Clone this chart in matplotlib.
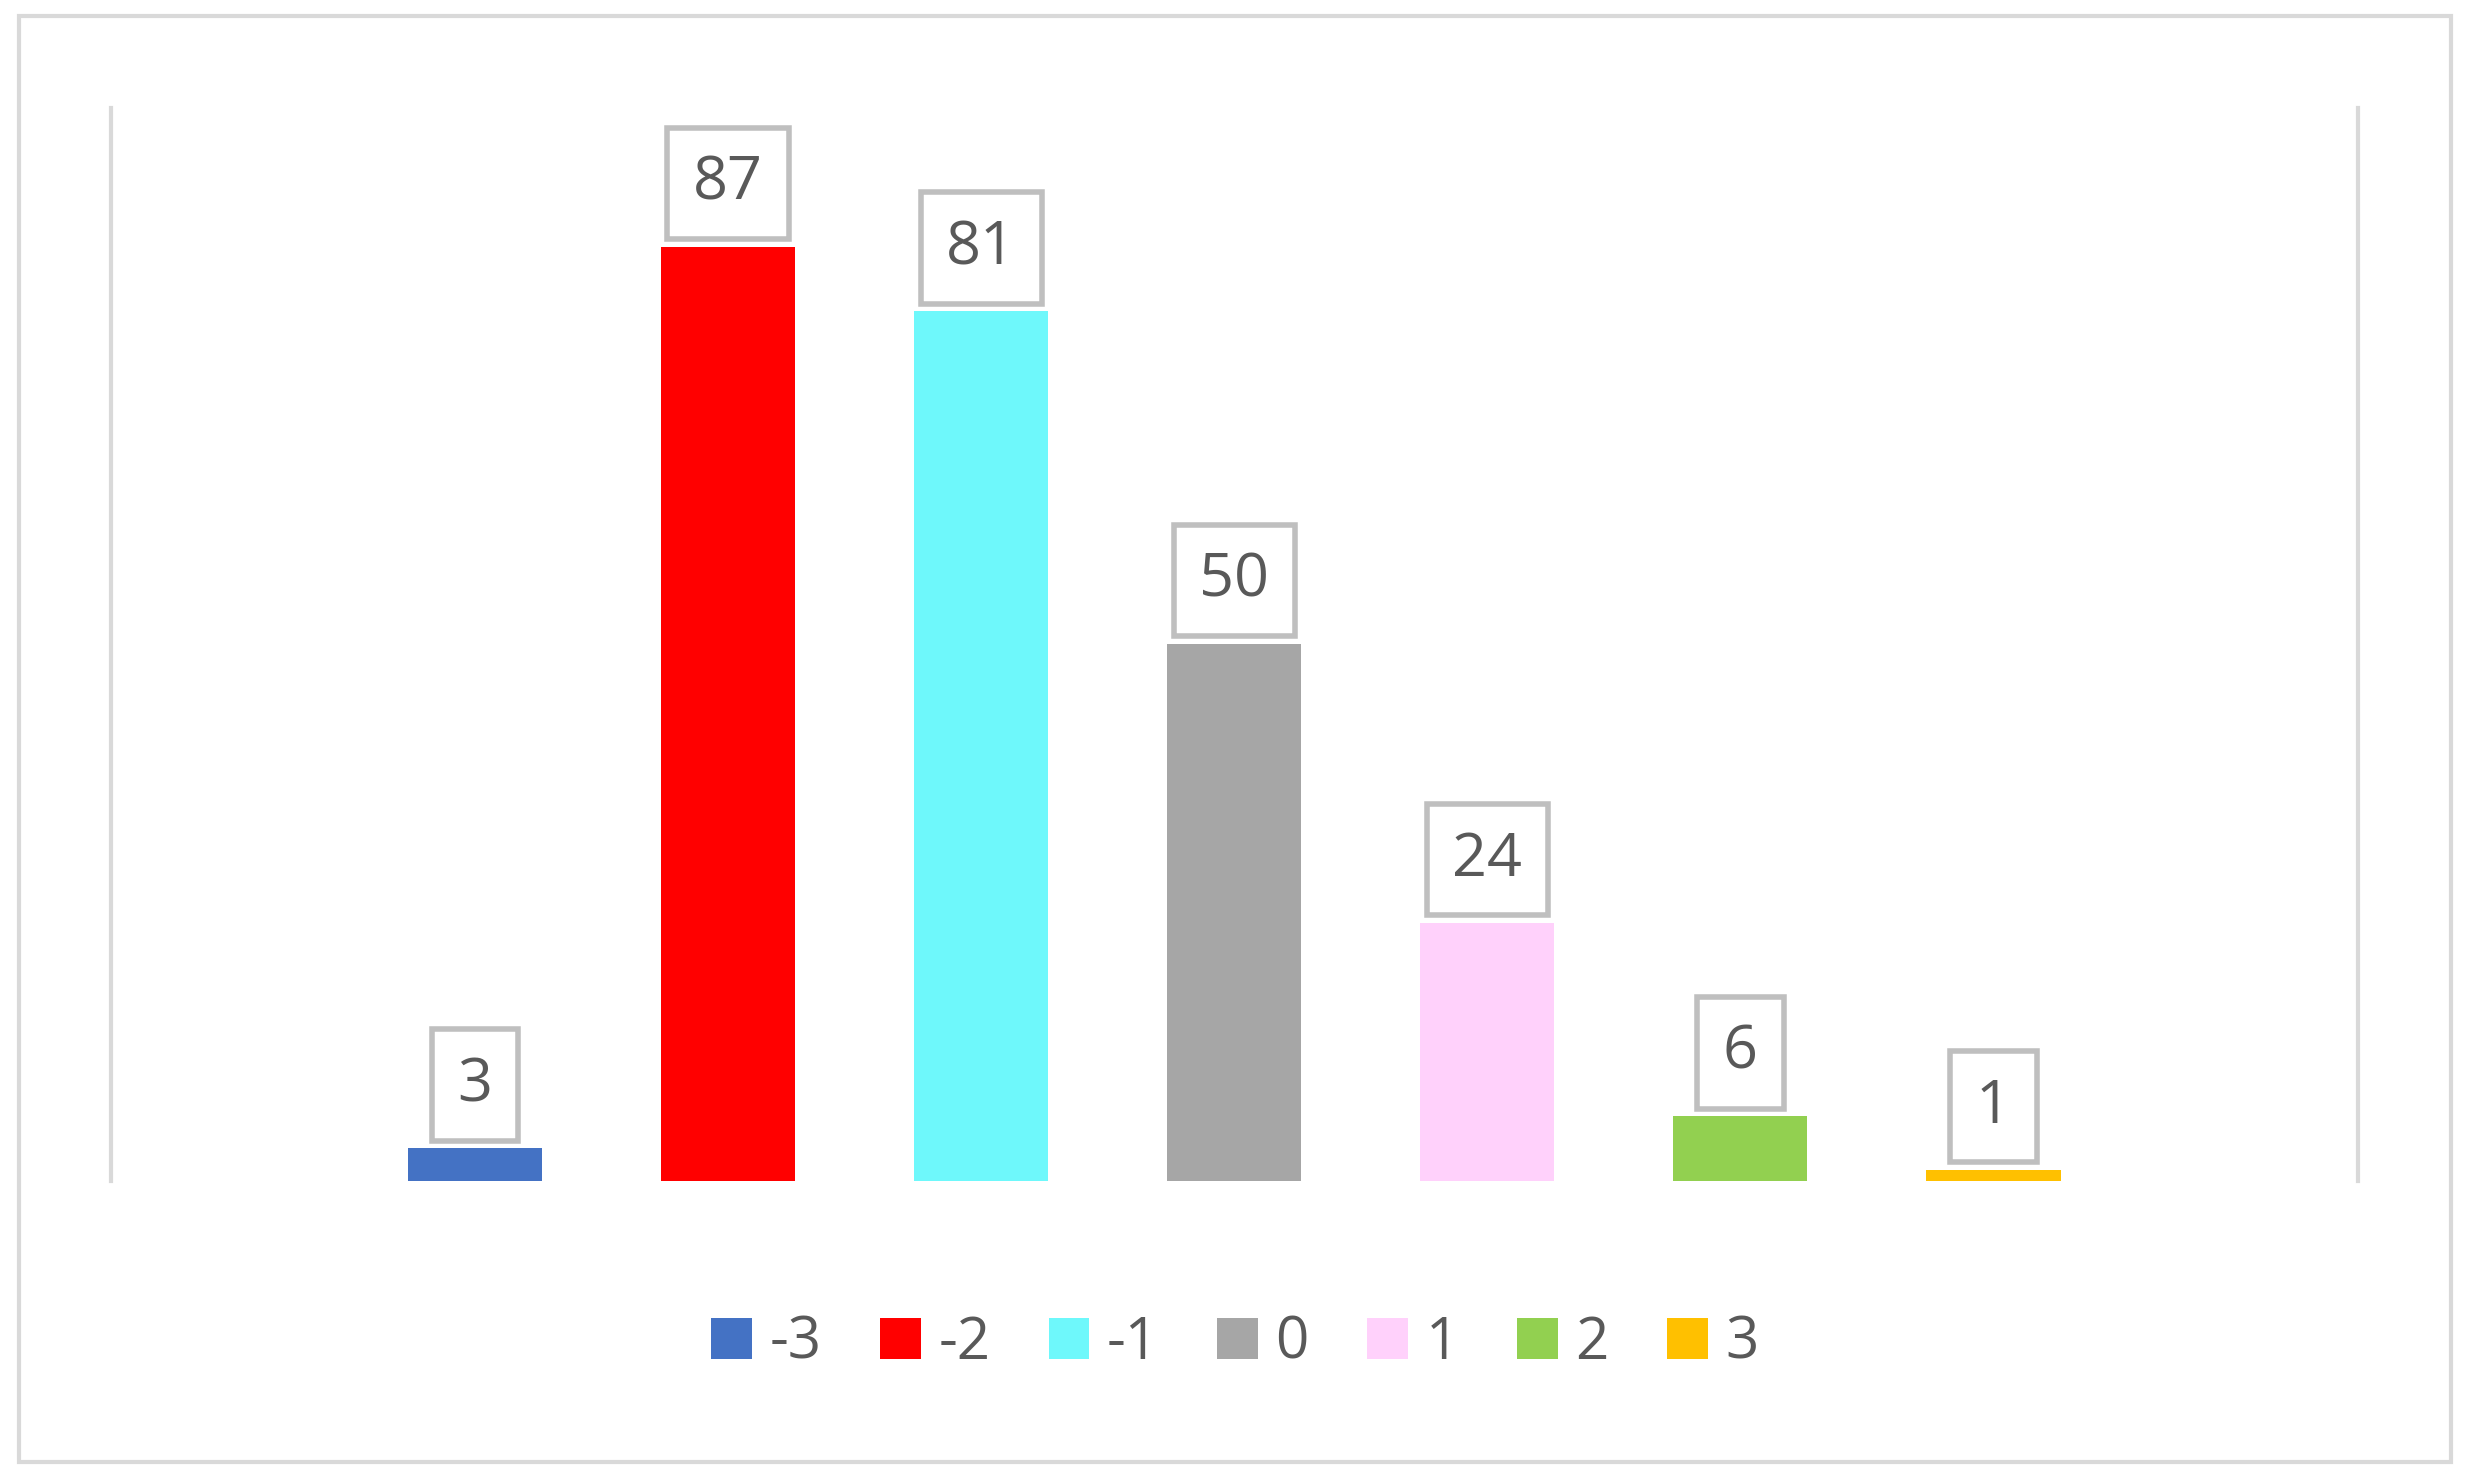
import matplotlib.pyplot as plt
from matplotlib.patches import Rectangle

categories = ['-3', '-2', '-1', '0', '1', '2', '3']
values = [3, 87, 81, 50, 24, 6, 1]
colors = ['#4472C4', '#FF0000', '#6EF8FB', '#A6A6A6', '#FFD1FB', '#92D050', '#FFC000']

plt.rcParams['font.family'] = ['Open Sans', 'DejaVu Sans']

fig = plt.figure(figsize=(24.7, 14.81), dpi=100)
ax = fig.add_axes([0.0448, 0.2028, 0.9098, 0.7246])

xs = [int(c) for c in categories]
for x, v, c, lab in zip(xs, values, colors, categories):
    ax.bar(x, v, width=0.53, color=c, label=lab)
    ax.annotate(str(v), (x, v), xytext=(0, 24), textcoords='offset points',
                ha='center', va='bottom', fontsize=44, color='#595959',
                bbox=dict(boxstyle='square,pad=0.42', fc='white', ec='#BFBFBF', lw=4))

ax.set_xlim(-4.44, 4.44)
ax.set_ylim(0, 100)
ax.set_xticks([])
ax.set_yticks([])
for s in ['top', 'bottom']:
    ax.spines[s].set_visible(False)
for s in ['left', 'right']:
    ax.spines[s].set_color('#D9D9D9')
    ax.spines[s].set_linewidth(3)

fig.legend(loc='center', bbox_to_anchor=(0.5, 0.093), ncol=7, frameon=False,
           fontsize=42, handlelength=0.7, handleheight=0.7, handletextpad=0.3,
           columnspacing=1.0, labelcolor='#595959')

fig.patches.append(Rectangle((0.0077, 0.0128), 0.9846, 0.9762, transform=fig.transFigure,
                             fill=False, ec='#D9D9D9', lw=3))

fig.savefig('out.png', dpi=100)
